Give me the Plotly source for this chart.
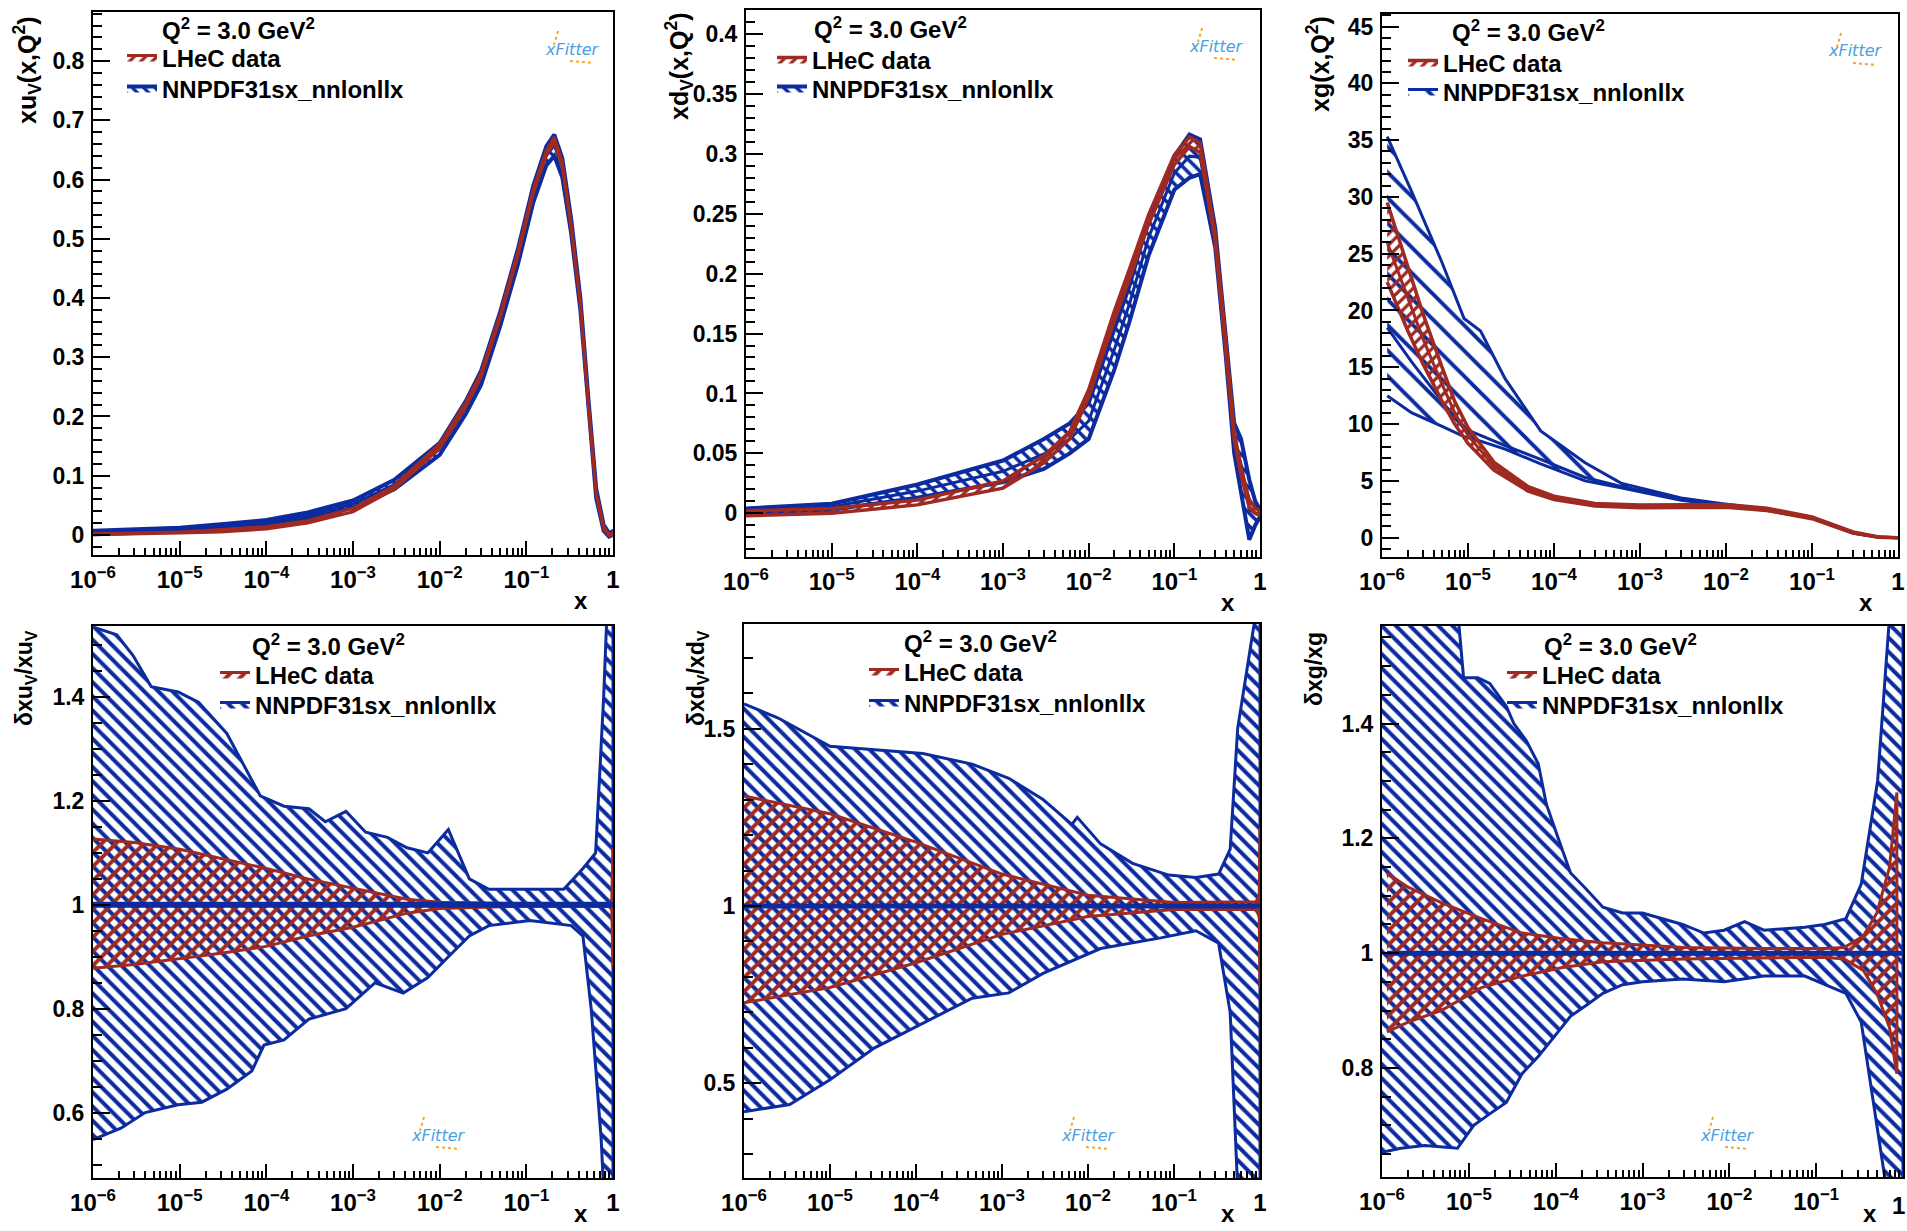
import plotly.graph_objects as go

BLUE = "#0b2b9e"
RED = "#9e2a22"
LOGO_BLUE = "#4a9fe0"
LOGO_ORANGE = "#f0a830"
FONT = "Liberation Sans"

W, H = 1907, 1231

# ---------------- xu_v(x, Q^2) ----------------
x_uv = [1e-6, 3e-6, 1e-5, 3e-5, 1e-4, 3e-4, 1e-3, 3e-3, 1e-2, 2e-2, 3e-2, 5e-2,
        0.08, 0.12, 0.17, 0.21, 0.26, 0.33, 0.42, 0.52, 0.64, 0.78, 0.9, 1.0]
nn_uv_c = [0.004, 0.006, 0.009, 0.014, 0.021, 0.033, 0.052, 0.085, 0.145, 0.215, 0.265, 0.365,
           0.47, 0.575, 0.64, 0.658, 0.62, 0.52, 0.39, 0.22, 0.07, 0.012, 0.0, 0.003]
nn_uv_lo = [0.001, 0.003, 0.006, 0.010, 0.017, 0.028, 0.046, 0.077, 0.135, 0.204, 0.253, 0.353,
            0.457, 0.561, 0.624, 0.640, 0.604, 0.508, 0.380, 0.210, 0.062, 0.007, -0.003, 0.0]
nn_uv_hi = [0.007, 0.009, 0.012, 0.018, 0.025, 0.038, 0.058, 0.093, 0.155, 0.226, 0.277, 0.377,
            0.483, 0.589, 0.656, 0.676, 0.636, 0.532, 0.400, 0.230, 0.078, 0.017, 0.003, 0.006]
lh_uv_c = [0.001, 0.002, 0.004, 0.007, 0.012, 0.022, 0.042, 0.080, 0.150, 0.220, 0.270, 0.370,
           0.475, 0.580, 0.645, 0.667, 0.625, 0.520, 0.390, 0.220, 0.070, 0.012, 0.0, 0.002]
lh_uv_lo = [0.0, 0.001, 0.003, 0.005, 0.010, 0.020, 0.039, 0.077, 0.146, 0.216, 0.266, 0.366,
            0.471, 0.576, 0.641, 0.662, 0.620, 0.516, 0.386, 0.216, 0.067, 0.010, -0.001, 0.0]
lh_uv_hi = [0.002, 0.003, 0.005, 0.009, 0.014, 0.024, 0.045, 0.083, 0.154, 0.224, 0.274, 0.374,
            0.479, 0.584, 0.649, 0.672, 0.630, 0.524, 0.394, 0.224, 0.073, 0.014, 0.001, 0.004]

# ---------------- xd_v(x, Q^2) ----------------
x_dv = [1e-6, 1e-5, 1e-4, 1e-3, 3e-3, 6e-3, 1e-2, 2e-2, 3e-2, 5e-2, 0.1, 0.15, 0.2,
        0.3, 0.4, 0.5, 0.6, 0.75, 0.88, 1.0]
nn_dv_lo = [0.0, 0.003, 0.013, 0.026, 0.037, 0.050, 0.062, 0.120, 0.160, 0.215, 0.270, 0.280, 0.283,
            0.222, 0.130, 0.050, 0.020, -0.022, -0.010, -0.003]
nn_dv_hi = [0.004, 0.008, 0.024, 0.044, 0.062, 0.075, 0.092, 0.155, 0.190, 0.245, 0.298, 0.316, 0.312,
            0.238, 0.150, 0.075, 0.062, 0.028, 0.010, 0.003]
nn_dv_c = [0.002, 0.0055, 0.0185, 0.035, 0.0495, 0.062, 0.077, 0.137, 0.175, 0.230, 0.284, 0.298, 0.297,
           0.230, 0.140, 0.062, 0.041, 0.003, 0.0, 0.0]
lh_dv_c = [0.0, 0.002, 0.009, 0.024, 0.045, 0.065, 0.100, 0.165, 0.200, 0.245, 0.295, 0.310, 0.305,
           0.230, 0.140, 0.065, 0.035, 0.008, 0.002, 0.0]
lh_dv_lo = [-0.002, 0.0, 0.007, 0.021, 0.042, 0.062, 0.097, 0.161, 0.196, 0.241, 0.291, 0.306, 0.301,
            0.227, 0.137, 0.062, 0.032, 0.005, 0.0, -0.002]
lh_dv_hi = [0.002, 0.004, 0.011, 0.027, 0.048, 0.068, 0.103, 0.169, 0.204, 0.249, 0.299, 0.314, 0.309,
            0.233, 0.143, 0.068, 0.038, 0.011, 0.004, 0.002]

# ---------------- xg(x, Q^2) ----------------
x_g = [1.15e-6, 2.2e-6, 5e-6, 9e-6, 1.4e-5, 2.7e-5, 7e-5, 2.3e-4, 6e-4, 3e-3, 1e-2, 3e-2,
       0.1, 0.3, 0.6, 1.0]
nn_g_hi = [35.3, 30.5, 24.2, 19.3, 18.2, 14.0, 9.4, 6.6, 4.8, 3.5, 2.95, 2.5, 1.8, 0.45, 0.05, 0.0]
nn_g_lo = [12.5, 11.0, 9.8, 8.9, 8.5, 7.8, 6.5, 5.0, 4.4, 3.3, 2.8, 2.4, 1.7, 0.4, 0.03, 0.0]
nn_g_c = [18.5, 15.5, 12.0, 9.6, 9.0, 8.1, 6.9, 5.3, 4.5, 3.4, 2.88, 2.45, 1.75, 0.42, 0.04, 0.0]
x_g_lh = [1.15e-6, 2e-6, 3e-6, 5e-6, 7e-6, 1e-5, 2e-5, 5e-5, 1e-4, 3e-4, 1e-3, 1e-2, 3e-2,
          0.1, 0.3, 0.6, 1.0]
lh_g_c = [26.0, 21.0, 17.5, 13.5, 11.0, 9.0, 6.3, 4.3, 3.5, 2.9, 2.75, 2.8, 2.5, 1.75, 0.45, 0.05, 0.0]
lh_g_hi = [29.5, 23.8, 19.7, 15.0, 12.0, 9.7, 6.65, 4.5, 3.65, 3.02, 2.87, 2.92, 2.6, 1.83, 0.5, 0.07, 0.0]
lh_g_lo = [22.5, 18.2, 15.3, 12.0, 10.0, 8.3, 5.95, 4.1, 3.35, 2.78, 2.63, 2.68, 2.4, 1.67, 0.4, 0.03, 0.0]

# ---------------- relative uncertainty, u_v ----------------
r_uv_nn_xhi = [1.0e-6, 1.88e-6, 2.9e-6, 4.7e-6, 9.6e-6, 1.65e-5, 3.5e-5, 5.5e-5, 8.5e-5, 1.6e-4,
               3.1e-4, 4.8e-4, 8.3e-4, 1.4e-3, 2.5e-3, 4.2e-3, 7.3e-3, 1.26e-2, 2.2e-2, 3.7e-2,
               0.11, 0.27, 0.45, 0.63, 0.78, 0.87, 1.0]
r_uv_nn_hi = [1.535, 1.52, 1.48, 1.42, 1.41, 1.39, 1.33, 1.27, 1.21, 1.19,
              1.185, 1.16, 1.18, 1.14, 1.13, 1.11, 1.10, 1.145, 1.05, 1.03,
              1.03, 1.03, 1.07, 1.10, 1.40, 1.60, 1.60]
r_uv_nn_xlo = [1.0e-6, 2.1e-6, 4.0e-6, 9.6e-6, 1.8e-5, 3.5e-5, 6.8e-5, 9.4e-5, 1.6e-4, 3.1e-4,
               8.3e-4, 1.8e-3, 3.8e-3, 7.3e-3, 1.26e-2, 2.2e-2, 3.7e-2, 0.11, 0.33, 0.45,
               0.56, 0.73, 0.78, 1.0]
r_uv_nn_lo = [0.548, 0.57, 0.60, 0.615, 0.62, 0.645, 0.68, 0.73, 0.74, 0.78,
              0.80, 0.85, 0.83, 0.86, 0.90, 0.94, 0.96, 0.97, 0.96, 0.94,
              0.80, 0.55, 0.45, 0.45]
r_uv_lh_x = [1e-6, 3e-6, 1e-5, 3e-5, 1e-4, 3e-4, 1e-3, 4.2e-3, 1e-2, 0.1, 0.9, 0.97, 1.0]
r_uv_lh_hi = [1.127, 1.120, 1.107, 1.090, 1.070, 1.050, 1.032, 1.011, 1.005, 1.002, 1.003, 1.010, 1.110]
r_uv_lh_lo = [0.878, 0.885, 0.897, 0.907, 0.920, 0.940, 0.957, 0.984, 0.993, 0.998, 0.997, 0.990, 0.880]
r_uv_c_x = [1e-6, 1e-4, 1e-2, 1.0]
r_uv_c = [1.0, 1.0, 1.0, 1.0]

# ---------------- relative uncertainty, d_v ----------------
r_dv_nn_xhi = [1e-6, 2.5e-6, 1e-5, 3.3e-5, 1.2e-4, 4.5e-4, 1.2e-3, 3e-3, 6.5e-3, 7.5e-3,
               1.4e-2, 3.3e-2, 0.087, 0.18, 0.33, 0.45, 0.55, 1.0]
r_dv_nn_hi = [1.57, 1.53, 1.45, 1.44, 1.43, 1.40, 1.36, 1.30, 1.23, 1.25,
              1.175, 1.12, 1.087, 1.08, 1.09, 1.16, 1.50, 1.90]
r_dv_nn_xlo = [1e-6, 3.4e-6, 1e-5, 3.3e-5, 1.2e-4, 4.5e-4, 1.2e-3, 3e-3, 1.4e-2, 0.07,
               0.18, 0.33, 0.45, 0.55, 1.0]
r_dv_nn_lo = [0.42, 0.44, 0.51, 0.60, 0.67, 0.74, 0.755, 0.81, 0.88, 0.91,
              0.93, 0.895, 0.70, 0.20, 0.20]
r_dv_lh_x = [1e-6, 1e-5, 1e-4, 1e-3, 1e-2, 0.1, 0.9, 0.98, 1.0]
r_dv_lh_hi = [1.31, 1.26, 1.18, 1.09, 1.03, 1.01, 1.012, 1.03, 1.22]
r_dv_lh_lo = [0.727, 0.77, 0.84, 0.92, 0.97, 0.99, 0.99, 0.97, 0.77]
r_dv_c_x = [1e-6, 1e-4, 1e-2, 1.0]
r_dv_c = [1.0, 1.0, 1.0, 1.0]

# ---------------- relative uncertainty, g ----------------
r_g_nn_xhi = [1.0e-6, 7.4e-6, 8.7e-6, 1.27e-5, 1.74e-5, 2.7e-5, 3.3e-5, 4.6e-5, 6.3e-5, 7.8e-5,
              1.07e-4, 1.48e-4, 2.3e-4, 3.5e-4, 5.9e-4, 1.0e-3, 1.7e-3, 2.9e-3, 5.1e-3, 8.7e-3,
              1.5e-2, 2.5e-2, 7.4e-2, 0.125, 0.22, 0.33, 0.51, 0.71, 1.0]
r_g_nn_hi = [1.60, 1.60, 1.48, 1.48, 1.47, 1.43, 1.40, 1.37, 1.33, 1.26,
             1.20, 1.14, 1.11, 1.08, 1.07, 1.07, 1.06, 1.05, 1.035, 1.04,
             1.055, 1.04, 1.045, 1.05, 1.06, 1.12, 1.30, 1.60, 1.60]
r_g_nn_xlo = [1.0e-6, 1.65e-6, 3.1e-6, 7.4e-6, 1.14e-5, 1.74e-5, 2.7e-5, 4.1e-5, 6.3e-5, 9.7e-5,
              1.48e-4, 2.3e-4, 3.5e-4, 5.9e-4, 1.0e-3, 2.9e-3, 8.7e-3, 2.5e-2, 7.4e-2, 0.22,
              0.33, 0.45, 0.63, 1.0]
r_g_nn_lo = [0.653, 0.66, 0.665, 0.66, 0.70, 0.72, 0.74, 0.79, 0.82, 0.855,
             0.89, 0.91, 0.93, 0.945, 0.95, 0.955, 0.95, 0.96, 0.96, 0.93,
             0.88, 0.75, 0.60, 0.60]
r_g_lh_x = [1.14e-6, 2e-6, 4.8e-6, 1.4e-5, 4.1e-5, 1.2e-4, 3.5e-4, 3e-3, 2.5e-2, 0.125,
            0.21, 0.35, 0.5, 0.7, 0.85]
r_g_lh_hi = [1.139, 1.115, 1.088, 1.06, 1.035, 1.025, 1.018, 1.01, 1.008, 1.008,
             1.01, 1.03, 1.07, 1.15, 1.28]
r_g_lh_lo = [0.863, 0.88, 0.90, 0.94, 0.96, 0.975, 0.985, 0.99, 0.992, 0.993,
             0.99, 0.97, 0.93, 0.87, 0.79]
r_g_c_x = [1.14e-6, 1e-4, 1e-2, 1.0]
r_g_c = [1.0, 1.0, 1.0, 1.0]

# axis ticks
X_TICKS = [1e-6, 1e-5, 1e-4, 1e-3, 1e-2, 1e-1, 1.0]
X_TICKTEXT = ["10<sup>−6</sup>", "10<sup>−5</sup>", "10<sup>−4</sup>", "10<sup>−3</sup>",
              "10<sup>−2</sup>", "10<sup>−1</sup>", "1"]
X_MINOR = [k * 10.0 ** e for e in range(-6, 0) for k in range(2, 10)]

LEGEND_NAMES = ["LHeC data", "NNPDF31sx_nnlonllx"]

# panel layout: box = (left, right, top, bottom) in pixels;
# leg = (text start x, LHeC row y, NNPDF row y)
PANELS = [
    dict(box=(93, 613, 12, 555), yr=[-0.034, 0.883], dt=0.1, mdt=0.02,
         title="xu<sub>V</sub>(x,Q<sup>2</sup>)", tpos=(27, 14), tsize=25,
         q2=(160, 29), leg=(162, 58, 89), logo=(572, 49), xlab=(581, 600)),
    dict(box=(746, 1260, 10, 557), yr=[-0.0365, 0.42], dt=0.05, mdt=0.01,
         title="xd<sub>V</sub>(x,Q<sup>2</sup>)", tpos=(679, 10), tsize=25,
         q2=(812, 28), leg=(812, 60, 89), logo=(1216, 46), xlab=(1228, 602)),
    dict(box=(1382, 1898, 14, 557), yr=[-1.7, 46.1], dt=5, mdt=1,
         title="xg(x,Q<sup>2</sup>)", tpos=(1318, 14), tsize=25,
         q2=(1450, 31), leg=(1443, 63, 92), logo=(1855, 51), xlab=(1866, 602)),
    dict(box=(93, 613, 626, 1178), yr=[0.474, 1.537], dt=0.2, mdt=0.05,
         title="δxu<sub>V</sub>/xu<sub>V</sub>", tpos=(25, 628), tsize=23,
         q2=(250, 645), leg=(255, 675, 705), logo=(438, 1135), xlab=(581, 1213)),
    dict(box=(744, 1260, 624, 1178), yr=[0.233, 1.795], dt=0.5, mdt=0.1,
         title="δxd<sub>V</sub>/xd<sub>V</sub>", tpos=(697, 628), tsize=23,
         q2=(902, 642), leg=(904, 672, 703), logo=(1088, 1135), xlab=(1228, 1213)),
    dict(box=(1382, 1903, 626, 1177), yr=[0.61, 1.57], dt=0.2, mdt=0.05,
         title="δxg/xg", tpos=(1314, 630), tsize=23,
         q2=(1542, 645), leg=(1542, 675, 705), logo=(1727, 1135), xlab=(1870, 1213)),
]


def band(x_hi, hi, x_lo, lo):
    return list(x_hi) + list(x_lo)[::-1], list(hi) + list(lo)[::-1]


fig = go.Figure()


def legend_id(i, entry):
    n = 2 * i + entry + 1
    return "legend" if n == 1 else "legend%d" % n


def add_band(i, entry, x_hi, hi, x_lo, lo, color, shape, size, lw=3, solidity=0.4):
    xs, ys = band(x_hi, hi, x_lo, lo)
    ax = "" if i == 0 else str(i + 1)
    fig.add_trace(go.Scatter(
        x=xs, y=ys, mode="lines", fill="toself",
        fillcolor="rgba(0,0,0,0)",
        fillpattern=dict(shape=shape, fgcolor=color, bgcolor="rgba(255,255,255,0)",
                         size=size, solidity=solidity, fillmode="replace"),
        line=dict(color=color, width=lw),
        name=LEGEND_NAMES[entry],
        legend=legend_id(i, entry), showlegend=True,
        xaxis="x" + ax, yaxis="y" + ax, hoverinfo="skip"))


def add_line(i, x, y, color, width):
    ax = "" if i == 0 else str(i + 1)
    fig.add_trace(go.Scatter(
        x=x, y=y, mode="lines", line=dict(color=color, width=width),
        showlegend=False, xaxis="x" + ax, yaxis="y" + ax, hoverinfo="skip"))


# top row: PDFs
add_band(0, 1, x_uv, nn_uv_hi, x_uv, nn_uv_lo, BLUE, "\\", 8, lw=4)
add_line(0, x_uv, nn_uv_c, BLUE, 3)
add_band(0, 0, x_uv, lh_uv_hi, x_uv, lh_uv_lo, RED, "/", 8, lw=3)

add_band(1, 1, x_dv, nn_dv_hi, x_dv, nn_dv_lo, BLUE, "\\", 9, lw=4)
add_line(1, x_dv, nn_dv_c, BLUE, 3)
add_band(1, 0, x_dv, lh_dv_hi, x_dv, lh_dv_lo, RED, "/", 8, lw=3.5)

add_band(2, 1, x_g, nn_g_hi, x_g, nn_g_lo, BLUE, "\\", 18, lw=3, solidity=0.22)
add_line(2, x_g, nn_g_c, BLUE, 3)
add_band(2, 0, x_g_lh, lh_g_hi, x_g_lh, lh_g_lo, RED, "/", 8, lw=3.5)
add_line(2, x_g_lh, lh_g_c, RED, 3)

# bottom row: relative uncertainties
add_band(3, 1, r_uv_nn_xhi, r_uv_nn_hi, r_uv_nn_xlo, r_uv_nn_lo, BLUE, "\\", 10)
add_band(3, 0, r_uv_lh_x, r_uv_lh_hi, r_uv_lh_x, r_uv_lh_lo, RED, "/", 10)
add_line(3, r_uv_c_x, r_uv_c, BLUE, 6)

add_band(4, 1, r_dv_nn_xhi, r_dv_nn_hi, r_dv_nn_xlo, r_dv_nn_lo, BLUE, "\\", 10)
add_band(4, 0, r_dv_lh_x, r_dv_lh_hi, r_dv_lh_x, r_dv_lh_lo, RED, "/", 10)
add_line(4, r_dv_c_x, r_dv_c, BLUE, 5)

add_band(5, 1, r_g_nn_xhi, r_g_nn_hi, r_g_nn_xlo, r_g_nn_lo, BLUE, "\\", 10)
add_band(5, 0, r_g_lh_x, r_g_lh_hi, r_g_lh_x, r_g_lh_lo, RED, "/", 10)
add_line(5, r_g_c_x, r_g_c, BLUE, 5)

layout = dict(
    width=W, height=H, margin=dict(l=0, r=0, t=0, b=0, autoexpand=False),
    paper_bgcolor="white", plot_bgcolor="white",
    font=dict(family=FONT, color="black"),
    annotations=[], shapes=[],
)

for i, p in enumerate(PANELS):
    l, r, t, b = p["box"]
    ax = "" if i == 0 else str(i + 1)
    ticktext = list(X_TICKTEXT)
    if r > W - 8:
        # the "1" label at the figure edge is placed separately
        ticktext[-1] = ""
        layout["annotations"].append(dict(
            text="1", x=1.0, y=1 - (b + 28) / H, xref="paper", yref="paper",
            xanchor="right", yanchor="middle", showarrow=False,
            font=dict(family=FONT, size=24, weight="bold")))
    layout["xaxis" + ax] = dict(
        type="log", range=[-6, 0], domain=[l / W, r / W], anchor="y" + ax,
        automargin=False,
        showline=True, linecolor="black", linewidth=2, mirror=True,
        ticks="inside", ticklen=14, tickwidth=1.5, tickcolor="black",
        tickmode="array", tickvals=X_TICKS, ticktext=ticktext,
        tickfont=dict(family=FONT, size=24, weight="bold"),
        ticklabelstandoff=2,
        showgrid=False, zeroline=False,
        minor=dict(tickmode="array", tickvals=X_MINOR, ticks="inside", ticklen=7,
                   tickwidth=1.5, tickcolor="black", showgrid=False),
    )
    layout["yaxis" + ax] = dict(
        range=p["yr"], domain=[1 - b / H, 1 - t / H], anchor="x" + ax,
        automargin=False,
        showline=True, linecolor="black", linewidth=2, mirror=True,
        ticks="inside", ticklen=17, tickwidth=1.5, tickcolor="black",
        tick0=0, dtick=p["dt"],
        tickfont=dict(family=FONT, size=23, weight="bold"),
        ticklabelstandoff=2,
        showgrid=False, zeroline=False,
        minor=dict(dtick=p["mdt"], tick0=0, ticks="inside", ticklen=9,
                   tickwidth=1.5, tickcolor="black", showgrid=False),
    )
    lx, ly_red, ly_blue = p["leg"]
    for entry, ly in ((0, ly_red), (1, ly_blue)):
        layout[legend_id(i, entry)] = dict(
            x=(lx - 40) / W, y=1 - ly / H, xanchor="left", yanchor="middle",
            bgcolor="rgba(0,0,0,0)", borderwidth=0, tracegroupgap=0,
            font=dict(family=FONT, size=24, weight="bold", color="black"),
            itemwidth=30,
        )
    # axis titles
    tx, ty = p["tpos"]
    layout["annotations"].append(dict(
        text=p["title"], x=tx / W, y=1 - ty / H, xref="paper", yref="paper",
        xanchor="center", yanchor="top", textangle=-90, showarrow=False,
        font=dict(family=FONT, size=p["tsize"], weight="bold")))
    xx, xy = p["xlab"]
    layout["annotations"].append(dict(
        text="x", x=xx / W, y=1 - xy / H, xref="paper", yref="paper",
        xanchor="center", yanchor="middle", showarrow=False,
        font=dict(family=FONT, size=24, weight="bold")))
    qx, qy = p["q2"]
    layout["annotations"].append(dict(
        text="Q<sup>2</sup> = 3.0 GeV<sup>2</sup>", x=qx / W, y=1 - qy / H,
        xref="paper", yref="paper", xanchor="left", yanchor="middle",
        showarrow=False, font=dict(family=FONT, size=24, weight="bold")))
    gx, gy = p["logo"]
    layout["annotations"].append(dict(
        text="<i>xFitter</i>", x=gx / W, y=1 - gy / H, xref="paper", yref="paper",
        xanchor="center", yanchor="middle", showarrow=False,
        font=dict(family="DejaVu Sans", size=16, color=LOGO_BLUE)))
    layout["shapes"].append(dict(
        type="line", xref="paper", yref="paper",
        x0=(gx - 2) / W, x1=(gx + 22) / W, y0=1 - (gy + 12) / H, y1=1 - (gy + 14) / H,
        line=dict(color=LOGO_ORANGE, width=2, dash="dot")))
    layout["shapes"].append(dict(
        type="line", xref="paper", yref="paper",
        x0=(gx - 14) / W, x1=(gx - 18) / W, y0=1 - (gy - 18) / H, y1=1 - (gy - 4) / H,
        line=dict(color=LOGO_ORANGE, width=2, dash="dot")))

fig.update_layout(**layout)
fig.write_html("out.html")
